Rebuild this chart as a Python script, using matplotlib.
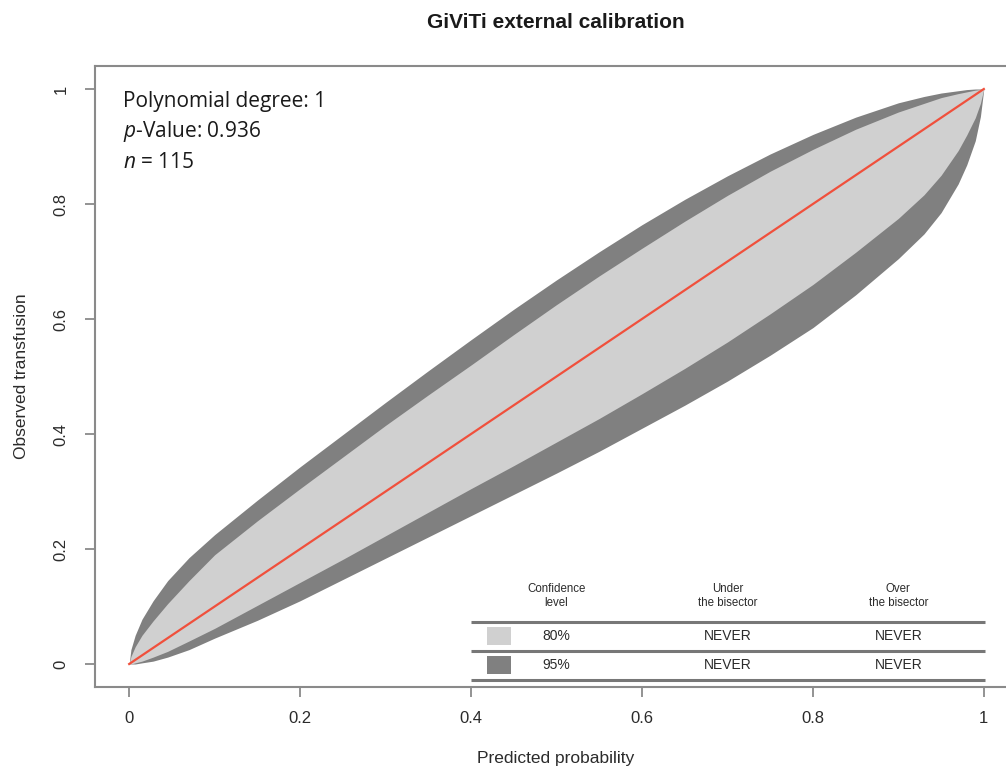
import matplotlib
matplotlib.use('Agg')
import matplotlib.pyplot as plt
from matplotlib.patches import Rectangle


# Calibration belt (predicted -> observed)
predicted = [0, 0.002, 0.007, 0.015, 0.028, 0.045, 0.07, 0.1, 0.15, 0.2,
             0.25, 0.3, 0.35, 0.4, 0.45, 0.5, 0.55, 0.6, 0.65, 0.7, 0.75,
             0.8, 0.85, 0.9, 0.93, 0.95, 0.97, 0.98, 0.99, 0.996, 1]
upper_95 = [0, 0.025, 0.05, 0.078, 0.11, 0.145, 0.185, 0.225, 0.285, 0.343,
            0.399, 0.455, 0.51, 0.564, 0.617, 0.668, 0.717, 0.764, 0.808,
            0.849, 0.887, 0.921, 0.951, 0.976, 0.987, 0.993, 0.997, 0.999,
            1.0, 1.0, 1]
upper_80 = [0, 0.013, 0.03, 0.05, 0.075, 0.105, 0.145, 0.19, 0.249, 0.305,
            0.36, 0.415, 0.468, 0.52, 0.573, 0.625, 0.675, 0.723, 0.77,
            0.815, 0.857, 0.895, 0.93, 0.96, 0.975, 0.985, 0.992, 0.995,
            0.998, 0.999, 1]
lower_80 = [0, 0.0, 0.002, 0.005, 0.012, 0.022, 0.04, 0.062, 0.102, 0.142,
            0.182, 0.223, 0.264, 0.305, 0.345, 0.386, 0.427, 0.47, 0.514,
            0.56, 0.609, 0.66, 0.716, 0.775, 0.816, 0.85, 0.893, 0.92, 0.95,
            0.975, 1]
lower_95 = [0, 0.0, 0.0, 0.002, 0.005, 0.012, 0.025, 0.045, 0.076, 0.11,
            0.147, 0.184, 0.221, 0.258, 0.295, 0.332, 0.37, 0.41, 0.45,
            0.492, 0.537, 0.585, 0.642, 0.705, 0.748, 0.785, 0.835, 0.868,
            0.91, 0.952, 1]

ticks = [0, 0.2, 0.4, 0.6, 0.8, 1]
tick_labels = ['0', '0.2', '0.4', '0.6', '0.8', '1']

stats_lines = ['Polynomial degree: 1', r'$\it{p}$-Value: 0.936', r'$\it{n}$ = 115']

table_header = ['Confidence\nlevel', 'Under\nthe bisector', 'Over\nthe bisector']
table_levels = ['80%', '95%']
table_under = ['NEVER', 'NEVER']
table_over = ['NEVER', 'NEVER']

COLORS = {
    'band_80': '#d0d0d0',
    'band_95': '#808080',
    'bisector': '#f0503c',
    'frame': '#8a8a8a',
    'text': '#2b2b2b',
}

plt.rcParams['font.family'] = ['Liberation Sans', 'DejaVu Sans']
plt.rcParams['mathtext.fontset'] = 'custom'
plt.rcParams['mathtext.it'] = 'Open Sans:italic'
plt.rcParams['mathtext.rm'] = 'Open Sans'

fig = plt.figure(figsize=(10.06, 7.67), dpi=100)
ax = fig.add_axes([95 / 1006, 1 - 687 / 767, 923 / 1006, 621 / 767])

# belt
ax.fill_between(predicted, lower_95, upper_95, color=COLORS['band_95'],
                linewidth=0)
ax.fill_between(predicted, lower_80, upper_80, color=COLORS['band_80'],
                linewidth=0)
ax.plot([0, 1], [0, 1], color=COLORS['bisector'], linewidth=1.6)

ax.set_xlim(-0.04, 1.04)
ax.set_ylim(-0.04, 1.04)
ax.set_xticks(ticks)
ax.set_xticklabels(tick_labels)
ax.set_yticks(ticks)
ax.set_yticklabels(tick_labels, rotation=90, va='center')
ax.tick_params(direction='out', length=7, width=1.3, color=COLORS['frame'],
               labelcolor=COLORS['text'], labelsize=12)
ax.tick_params(axis='x', pad=10)
ax.tick_params(axis='y', pad=12)
for spine in ax.spines.values():
    spine.set_color(COLORS['frame'])
    spine.set_linewidth(1.5)

# stats in top-left corner
for i, line in enumerate(stats_lines):
    ax.text((123 - 95) / 923, 1 - (101 + 31 * i - 66) / 621, line,
            transform=ax.transAxes, ha='left', va='center', fontsize=15,
            family='Open Sans', color='#1a1a1a')

# summary table in the bottom-right corner
col_x = [0.5, 0.7, 0.9]
for x, head in zip(col_x, table_header):
    ax.text(x, 0.118, head, ha='center', va='center', fontsize=8.3,
            color=COLORS['text'], linespacing=1.15)
for y in [0.073, 0.0226, -0.028]:
    ax.plot([0.4, 1.001], [y, y], color='#777777', linewidth=2.2,
            solid_capstyle='butt', clip_on=False)
row_y = [0.0487, -0.0017]
band_colors = [COLORS['band_80'], COLORS['band_95']]
for y, lev, und, ovr, c in zip(row_y, table_levels, table_under, table_over,
                               band_colors):
    ax.add_patch(Rectangle((0.419, y - 0.0155), 0.028, 0.031, facecolor=c,
                           edgecolor='none'))
    ax.text(col_x[0], y, lev, ha='center', va='center', fontsize=10,
            color=COLORS['text'])
    ax.text(col_x[1], y, und, ha='center', va='center', fontsize=10,
            color=COLORS['text'])
    ax.text(col_x[2], y, ovr, ha='center', va='center', fontsize=10,
            color=COLORS['text'])

fig.text(556 / 1006, 1 - 22 / 767, 'GiViTi external calibration',
         ha='center', va='center', fontsize=15, fontweight='bold',
         color='#1a1a1a')
fig.text(22 / 1006, 1 - 376 / 767, 'Observed transfusion', rotation=90,
         ha='center', va='center', fontsize=12.5, color=COLORS['text'])
fig.text(556 / 1006, 1 - 758 / 767, 'Predicted probability',
         ha='center', va='center', fontsize=12.5, color=COLORS['text'])

fig.savefig('out.png', dpi=100, facecolor='white')
